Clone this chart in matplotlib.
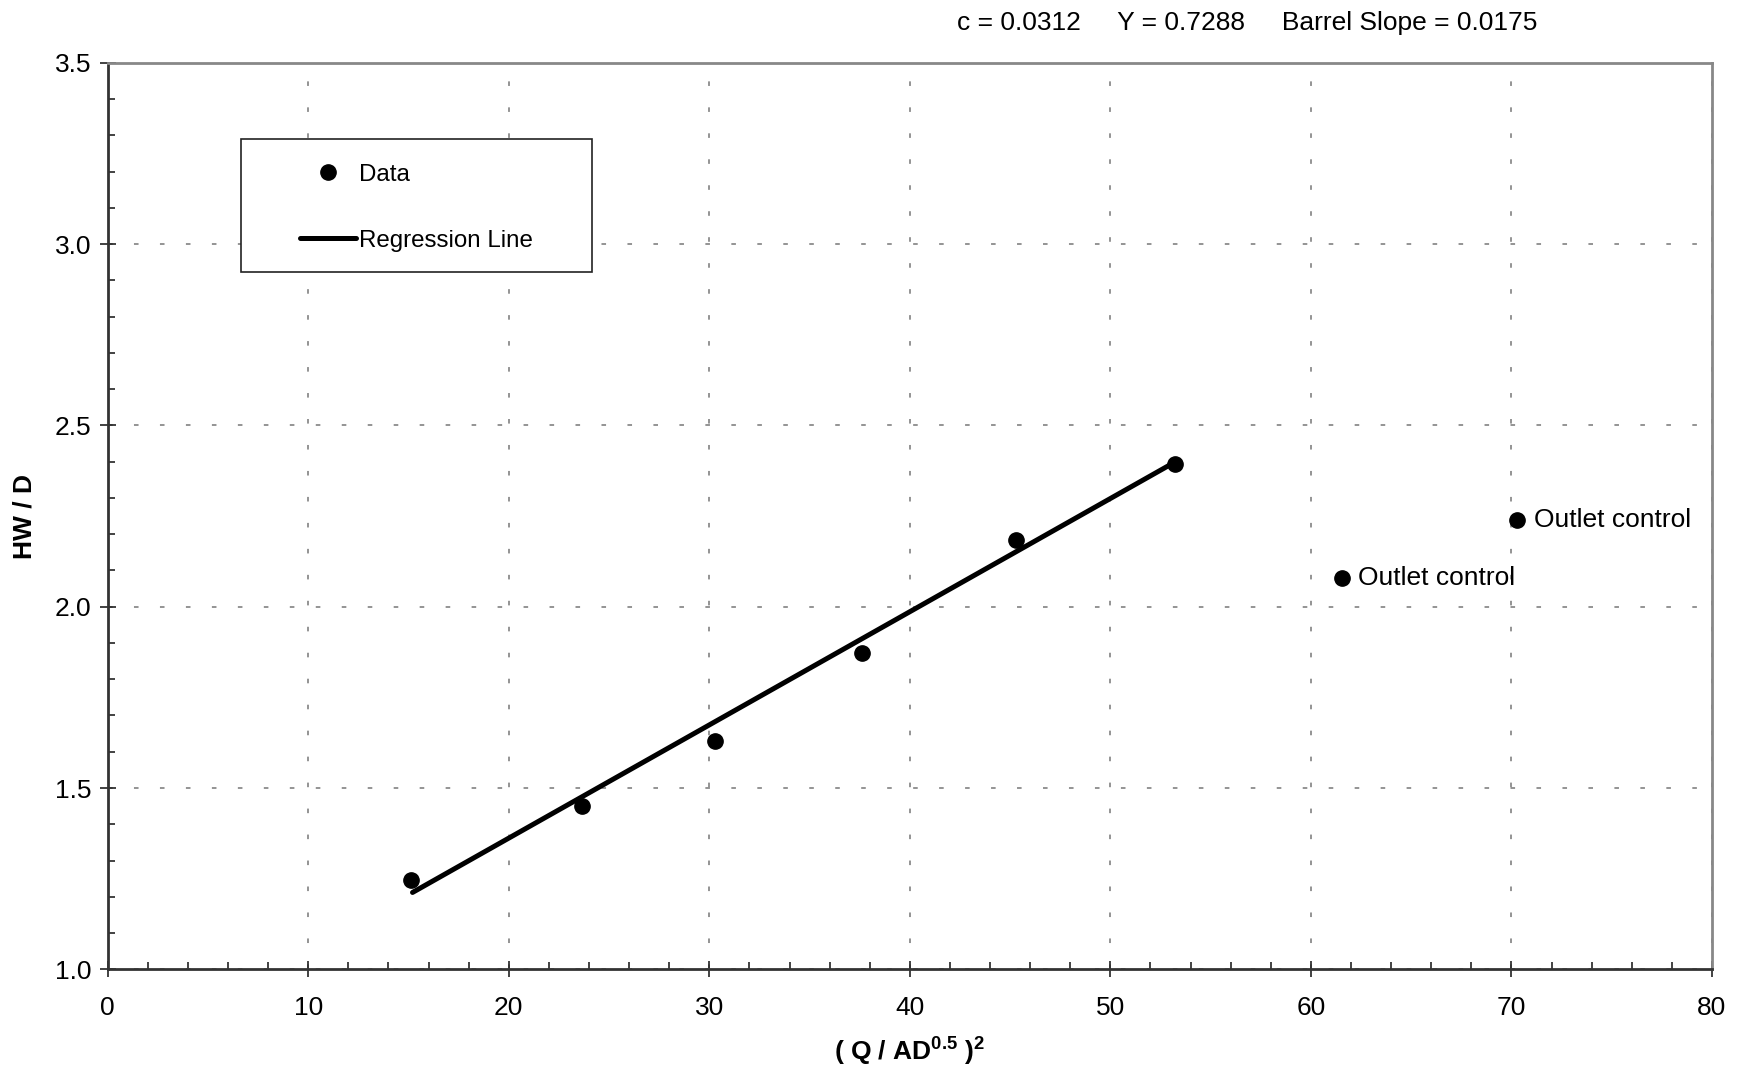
import matplotlib
matplotlib.use("Agg")
import matplotlib.pyplot as plt
from matplotlib.patches import Rectangle
from matplotlib.ticker import MultipleLocator

plt.rcParams["font.family"] = ["Liberation Sans", "DejaVu Sans"]
plt.rcParams["mathtext.fontset"] = "custom"
plt.rcParams["mathtext.rm"] = "Liberation Sans"
plt.rcParams["mathtext.bf"] = "Liberation Sans:bold"

# measured points (inlet control)
data_x = [15.13, 23.67, 30.27, 37.59, 45.29, 53.22]
data_y = [1.245, 1.450, 1.631, 1.873, 2.183, 2.394]

# points flagged as outlet control
outlet_x = [61.54, 70.30]
outlet_y = [2.078, 2.238]
outlet_label = "Outlet control"

# regression line end points
reg_x = [15.2, 53.0]
reg_y = [1.212, 2.392]

header = "c = 0.0312     Y = 0.7288     Barrel Slope = 0.0175"

fs = 19

fig = plt.figure(figsize=(17.43, 10.78), dpi=100)
ax = fig.add_axes([0.0618, 0.1008, 0.9204, 0.841])

ax.plot(data_x, data_y, "o", color="black", ms=11, label="Data", zorder=4)
ax.plot(reg_x, reg_y, "-", color="black", lw=3.6, label="Regression Line",
        solid_capstyle="round", zorder=3)
ax.plot(outlet_x, outlet_y, "o", color="black", ms=11, zorder=4)
for x, y in zip(outlet_x, outlet_y):
    ax.annotate(outlet_label, (x, y), xytext=(12, 0), textcoords="offset points",
                va="center", ha="left", fontsize=fs)

ax.set_xlim(0, 80)
ax.set_ylim(1.0, 3.5)
ax.xaxis.set_major_locator(MultipleLocator(10))
ax.xaxis.set_minor_locator(MultipleLocator(2))
ax.yaxis.set_major_locator(MultipleLocator(0.5))
ax.yaxis.set_minor_locator(MultipleLocator(0.1))
ax.yaxis.set_major_formatter(matplotlib.ticker.FormatStrFormatter("%.1f"))
ax.tick_params(which="major", direction="inout", length=12, width=1.2,
               labelsize=fs, color="#222222", pad=6)
ax.tick_params(axis="x", which="major", pad=13)
ax.tick_params(which="minor", direction="in", length=5, width=1.2, color="#222222")

ax.grid(True, which="major", color="#777777", lw=1.1, linestyle=(0, (3, 14)))

for side in ["left", "bottom"]:
    ax.spines[side].set_color("#333333")
    ax.spines[side].set_linewidth(2)
for side in ["top", "right"]:
    ax.spines[side].set_color("#888888")
    ax.spines[side].set_linewidth(2)

ax.set_xlabel(r"( Q / AD$^{\mathbf{0.5}}$ )$^{\mathbf{2}}$", fontsize=fs,
              fontweight="bold", labelpad=10)
ax.set_ylabel("HW / D", fontsize=fs, fontweight="bold", labelpad=13)

leg = ax.legend(loc="upper left", bbox_to_anchor=(0.1199, 0.8885), frameon=False,
                fontsize=17.4, handlelength=2.3, handletextpad=0.12, borderpad=0,
                labelspacing=1.82, numpoints=1, borderaxespad=0)
ax.add_patch(Rectangle((0.0831, 0.769), 0.2188, 0.1468, transform=ax.transAxes,
                       facecolor="white", edgecolor="#222222", lw=1.2, zorder=2.5))

fig.text(0.7155, 0.979, header, fontsize=fs, ha="center", va="center")

fig.savefig("out.png", dpi=100)
